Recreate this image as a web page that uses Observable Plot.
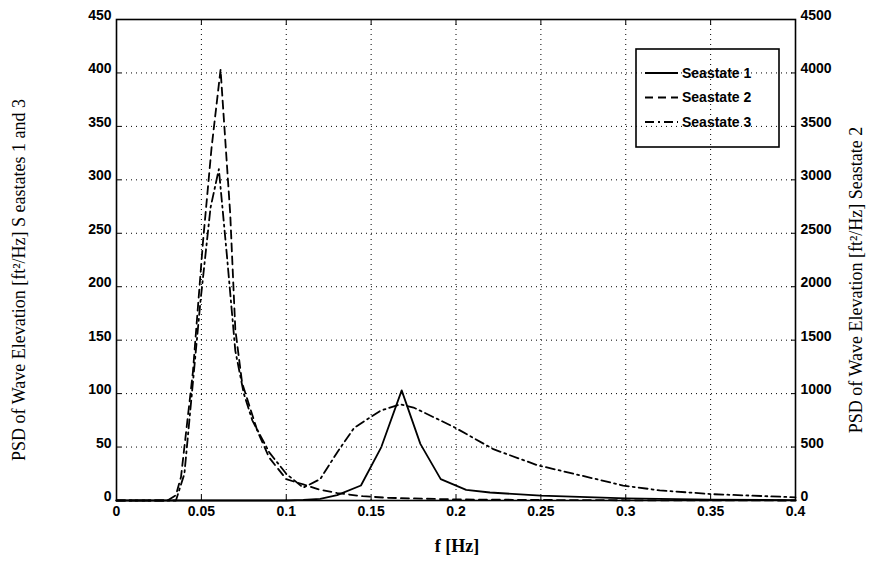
<!DOCTYPE html>
<html><head><meta charset="utf-8">
<script src="https://cdn.jsdelivr.net/npm/d3@7"></script>
<script src="https://cdn.jsdelivr.net/npm/@observablehq/plot@0.6"></script>
<style>body{margin:0;background:#fff;} #chart{width:879px;height:562px;}</style>
</head><body><div id="chart"></div>
<script>
// Seastate 1 (left axis, solid)
const freq1 = [0, 0.05, 0.1, 0.11, 0.12, 0.13, 0.144, 0.156, 0.168, 0.179, 0.191, 0.206, 0.22, 0.25, 0.3, 0.35, 0.4];
const psd1  = [0, 0, 0, 0.5, 1.5, 5, 14, 50, 103, 53, 20, 10, 7.5, 4.5, 2, 0.8, 0.3];
// Seastate 2 (right axis, dashed)
const freq2 = [0, 0.03, 0.035, 0.038, 0.045, 0.051, 0.056, 0.0613, 0.067, 0.07, 0.074, 0.083, 0.09, 0.1, 0.11, 0.12, 0.13, 0.145, 0.16, 0.2, 0.25, 0.3, 0.4];
const psd2  = [0, 0, 50, 220, 1200, 2430, 3300, 4030, 2680, 1600, 1100, 650, 400, 200, 150, 100, 70, 40, 25, 10, 5, 2, 0];
// Seastate 3 (left axis, dash-dot)
const freq3 = [0, 0.03, 0.035, 0.04, 0.0495, 0.0554, 0.0603, 0.065, 0.07, 0.075, 0.08, 0.09, 0.1, 0.11, 0.12, 0.13, 0.14, 0.1555, 0.167, 0.175, 0.1985, 0.222, 0.248, 0.2985, 0.32, 0.35, 0.4];
const psd3  = [0, 0, 0, 25, 187, 274, 310, 230, 140, 100, 75, 45, 25, 12, 20, 45, 68, 84, 90, 87, 69, 48, 33, 14, 9.5, 6, 3];

const xTicks = [0, 0.05, 0.1, 0.15, 0.2, 0.25, 0.3, 0.35, 0.4];
const xTickLabels = ["0", "0.05", "0.1", "0.15", "0.2", "0.25", "0.3", "0.35", "0.4"];
const leftTicks = [0, 50, 100, 150, 200, 250, 300, 350, 400, 450];
const rightTicks = [0, 500, 1000, 1500, 2000, 2500, 3000, 3500, 4000, 4500];
const seriesNames = ["Seastate 1", "Seastate 2", "Seastate 3"];

const leftMax = 450, rightMax = 4500;
const ratio = rightMax / leftMax;

const s1 = freq1.map((f, i) => ({f, v: psd1[i]}));
const s2 = freq2.map((f, i) => ({f, v: psd2[i] / ratio}));
const s3 = freq3.map((f, i) => ({f, v: psd3[i]}));

const tickFont = "'Liberation Sans', Arial, sans-serif";
const labelFont = "'Liberation Serif', 'Times New Roman', serif";
const dashes = [null, "8,5", "9,4,2,4"];
const rightPos = rightTicks.map(d => d / ratio);

const chart = Plot.plot({
  width: 879, height: 562,
  marginLeft: 116, marginRight: 84, marginTop: 19, marginBottom: 62,
  style: {fontFamily: tickFont, background: "#fff", color: "#000"},
  x: {domain: [0, 0.4]},
  y: {domain: [0, leftMax]},
  marks: [
    Plot.gridX(xTicks, {stroke: "#000", strokeOpacity: 1, strokeDasharray: "1,4", strokeWidth: 1}),
    Plot.gridY(leftTicks, {stroke: "#000", strokeOpacity: 1, strokeDasharray: "1,4", strokeWidth: 1}),
    Plot.axisX({ticks: xTicks, tickSize: -5, tickPadding: 11, tickFormat: (d, i) => xTickLabels[i], fontSize: 14, fontWeight: "bold", label: null}),
    Plot.axisX({anchor: "top", ticks: xTicks, tickSize: -5, tickFormat: () => "", label: null}),
    Plot.axisY({ticks: leftTicks, tickSize: -5, tickFormat: () => "", label: null}),
    Plot.axisY({ticks: leftTicks, tickSize: 0, tickPadding: 5, dy: -4, fontSize: 14, fontWeight: "bold", label: null}),
    Plot.axisY({anchor: "right", ticks: rightPos, tickSize: -5, tickFormat: () => "", label: null}),
    Plot.axisY({anchor: "right", ticks: rightPos, tickSize: 0, tickPadding: 5, dy: -4, tickFormat: d => String(Math.round(d * ratio)), fontSize: 14, fontWeight: "bold", label: null}),
    Plot.frame({stroke: "#000", strokeWidth: 1.6}),
    Plot.line(s3, {x: "f", y: "v", stroke: "#000", strokeWidth: 1.8, strokeDasharray: dashes[2]}),
    Plot.line(s2, {x: "f", y: "v", stroke: "#000", strokeWidth: 1.8, strokeDasharray: dashes[1]}),
    Plot.line(s1, {x: "f", y: "v", stroke: "#000", strokeWidth: 1.8})
  ]
});
document.getElementById("chart").appendChild(chart);

const svg = d3.select(chart);
// axis titles
svg.append("text").attr("x", 457).attr("y", 552).attr("text-anchor", "middle")
  .attr("font-family", labelFont).attr("font-size", 18).attr("font-weight", "bold").text("f [Hz]");
svg.append("text").attr("transform", "translate(25,280) rotate(-90)").attr("text-anchor", "middle")
  .attr("font-family", labelFont).attr("font-size", 18).attr("font-weight", "normal")
  .text("PSD of Wave Elevation [ft²/Hz] S eastates 1 and 3");
svg.append("text").attr("transform", "translate(862,280) rotate(-90)").attr("text-anchor", "middle")
  .attr("font-family", labelFont).attr("font-size", 18).attr("font-weight", "normal")
  .text("PSD of Wave Elevation [ft²/Hz] Seastate 2");

// legend
const lg = svg.append("g");
lg.append("rect").attr("x", 636).attr("y", 49).attr("width", 143).attr("height", 98)
  .attr("fill", "none").attr("stroke", "#000").attr("stroke-width", 1.6);
seriesNames.forEach((name, i) => {
  const y = 73 + i * 24.5;
  lg.append("line").attr("x1", 645).attr("x2", 678).attr("y1", y).attr("y2", y)
    .attr("stroke", "#000").attr("stroke-width", 1.8).attr("stroke-dasharray", dashes[i]);
  lg.append("text").attr("x", 682).attr("y", y).attr("dy", "0.35em").attr("text-anchor", "start")
    .attr("font-family", tickFont).attr("font-size", 14).attr("font-weight", "bold").text(name);
});
</script>
</body></html>
